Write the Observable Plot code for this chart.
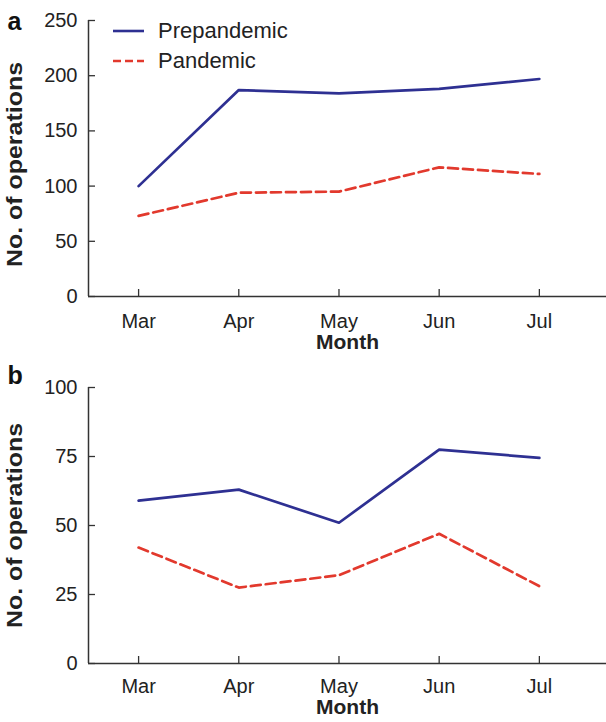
<!DOCTYPE html>
<html>
<head>
<meta charset="utf-8">
<script src="https://cdn.jsdelivr.net/npm/d3@7"></script>
<script src="https://cdn.jsdelivr.net/npm/@observablehq/plot@0.6"></script>
<style>
  html, body { margin: 0; padding: 0; background: #fff; }
  #wrap { position: relative; width: 606px; font-family: "Liberation Sans", Arial, Helvetica, sans-serif; }
  #wrap svg { display: block; }
  .leg { position: absolute; left: 113px; height: 24px; display: flex; align-items: center; font-size: 22px; color: #222; }
  .leg svg { margin-right: 14px; }
</style>
</head>
<body>
<div id="wrap"></div>
<script>
const months = ["Mar", "Apr", "May", "Jun", "Jul"];
const seriesNames = ["Prepandemic", "Pandemic"];
const colors = ["#2e3092", "#e2392d"];
const dashes = [null, "10,5"];

// Panel a
const prepandemicA = [100, 187, 184, 188, 197];
const pandemicA = [73, 94, 95, 117, 111];
const ticksA = [0, 50, 100, 150, 200, 250];

// Panel b
const prepandemicB = [59, 63, 51, 77.5, 74.5];
const pandemicB = [42, 27.5, 32, 47, 28];
const ticksB = [0, 25, 50, 75, 100];

const yTitle = "No. of operations";
const xTitle = "Month";
const panelLetters = ["a", "b"];

function rows(pre, pan) {
  const out = [];
  months.forEach((m, i) => out.push({series: seriesNames[0], month: m, idx: i, value: pre[i]}));
  months.forEach((m, i) => out.push({series: seriesNames[1], month: m, idx: i, value: pan[i]}));
  return out;
}

const font = "Liberation Sans, Arial, Helvetica, sans-serif";

function panel(letter, pre, pan, yTicks, opts) {
  const data = rows(pre, pan);
  const ymax = yTicks[yTicks.length - 1];
  const svg = Plot.plot({
    width: 606,
    height: opts.height,
    marginLeft: 88,
    marginRight: 0,
    marginTop: opts.marginTop,
    marginBottom: opts.marginBottom,
    style: {fontFamily: font, color: "#222", background: "#fff", overflow: "visible"},
    x: {type: "linear", domain: [-0.5, 4.67], axis: null},
    y: {domain: [0, ymax], axis: null},
    marks: [
      Plot.axisY({ticks: yTicks, tickSize: -7, tickPadding: 18, fontSize: 20, stroke: "#333", strokeWidth: 1.3, label: null}),
      Plot.axisX({ticks: months.map((m, i) => i), tickFormat: i => months[i], tickSize: -7, tickPadding: opts.xPad, fontSize: 20, stroke: "#333", strokeWidth: 1.3, label: null}),
      Plot.ruleX([-0.5], {stroke: "#333", strokeWidth: 1.5}),
      Plot.ruleY([0], {stroke: "#333", strokeWidth: 1.5}),
      Plot.line(data.filter(d => d.series === seriesNames[0]), {x: "idx", y: "value", stroke: colors[0], strokeWidth: 2.7}),
      Plot.line(data.filter(d => d.series === seriesNames[1]), {x: "idx", y: "value", stroke: colors[1], strokeWidth: 2.7, strokeDasharray: dashes[1]}),
      Plot.text([yTitle], {text: d => d, frameAnchor: "left", textAnchor: "middle", dx: -74, dy: opts.titleDy, rotate: -90, fontSize: 22, fontWeight: "bold", fill: "#222"}),
      Plot.text([xTitle], {text: d => d, frameAnchor: "bottom", textAnchor: "middle", dy: opts.monthDy, fontSize: 20, fontWeight: "bold", fill: "#222"}),
      Plot.text([letter], {text: d => d, frameAnchor: "top-left", dx: -81, dy: opts.letterDy, textAnchor: "start", fontSize: 25, fontWeight: "bold", fill: "#111"})
    ]
  });
  d3.select(svg).selectAll("text").each(function() {
    const t = this.textContent;
    if (t === yTitle) { this.setAttribute("textLength", 205); this.setAttribute("lengthAdjust", "spacingAndGlyphs"); }
    if (t === xTitle) { this.setAttribute("textLength", 63); this.setAttribute("lengthAdjust", "spacingAndGlyphs"); }
  });
  return svg;
}

const wrap = document.getElementById("wrap");
wrap.appendChild(panel(panelLetters[0], prepandemicA, pandemicA, ticksA, {height: 360, marginTop: 20, marginBottom: 64, monthDy: 52, letterDy: -8, titleDy: 6, xPad: 24}));
wrap.appendChild(panel(panelLetters[1], prepandemicB, pandemicB, ticksB, {height: 362, marginTop: 27, marginBottom: 59, monthDy: 50, letterDy: -21, titleDy: 0, xPad: 22}));

// Legend (inside panel a)
const legTops = [19, 49];
seriesNames.forEach((name, i) => {
  const div = document.createElement("div");
  div.className = "leg";
  div.style.top = legTops[i] + "px";
  const ns = "http://www.w3.org/2000/svg";
  const s = document.createElementNS(ns, "svg");
  s.setAttribute("width", 31);
  s.setAttribute("height", 24);
  const ln = document.createElementNS(ns, "line");
  ln.setAttribute("x1", 0); ln.setAttribute("x2", 31);
  ln.setAttribute("y1", 12); ln.setAttribute("y2", 12);
  ln.setAttribute("stroke", colors[i]);
  ln.setAttribute("stroke-width", 2.6);
  if (dashes[i]) ln.setAttribute("stroke-dasharray", "8,4");
  s.appendChild(ln);
  div.appendChild(s);
  const t = document.createElement("span");
  t.textContent = name;
  div.appendChild(t);
  wrap.appendChild(div);
});
</script>
</body>
</html>
